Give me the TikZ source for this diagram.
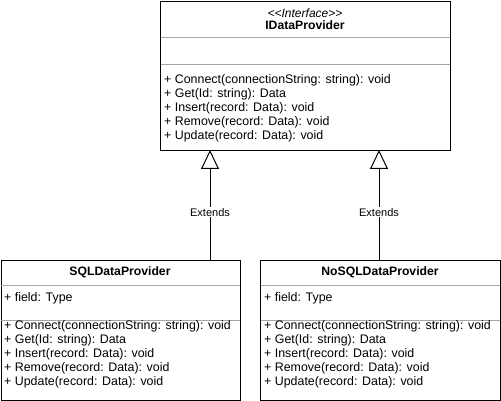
\documentclass[tikz,border=0pt]{standalone}
\usepackage{fontspec}
\setmainfont{Liberation Sans}
\usetikzlibrary{arrows.meta}
\begin{document}
\begin{tikzpicture}[x=1pt,y=-1pt,
  umlbox/.style={draw=black, line width=1pt, anchor=north west, inner sep=0pt},
  member/.style={anchor=west, inner sep=0pt, font=\fontsize{12.4}{14}\selectfont, text height=8.6pt, text depth=2.5pt},
  title/.style={anchor=center, inner sep=0pt, font=\fontsize{12.2}{14}\selectfont\bfseries, text height=8.6pt, text depth=2.5pt},
  stereo/.style={anchor=center, inner sep=0pt, font=\fontsize{12}{14}\selectfont\itshape, text height=8.6pt, text depth=2.5pt},
  divider/.style={draw=black!35, line width=1pt},
  extends/.style={draw=black, line width=1pt, -{Triangle[open, length=19pt, width=18pt]}},
  lbl/.style={fill=white, inner sep=1pt, font=\fontsize{11}{13}\selectfont}]
\useasboundingbox (0,0) rectangle (501,401);

% boxes
\node[umlbox, minimum width=290pt, minimum height=149pt] (iface) at (160,1) {};
\node[umlbox, minimum width=239.5pt, minimum height=140pt] (sql) at (0.5,260) {};
\node[umlbox, minimum width=240pt, minimum height=140pt] (nosql) at (260,260) {};

% dividers
\draw[divider] (160.5,38) -- (449.5,38);
\draw[divider] (160.5,65) -- (449.5,65);
\draw[divider] (1,285.5) -- (239.5,285.5);
\draw[divider] (1,320.5) -- (239.5,320.5);
\draw[divider] (260.5,285.5) -- (499.5,285.5);
\draw[divider] (260.5,320.5) -- (499.5,320.5);

% interface
\node[stereo] (ist) at (305,14) {<\kern0pt<Interface>\kern0pt>};
\node[title] (ititle) at (305,26.5) {IDataProvider};
\node[member] (i1) at (164,80) {+ Connect(connectionString: string): void};
\node[member] (i2) at (164,94) {+ Get(Id: string): Data};
\node[member] (i3) at (164,108) {+ Insert(record: Data): void};
\node[member] (i4) at (164,122) {+ Remove(record: Data): void};
\node[member] (i5) at (164,136) {+ Update(record: Data): void};

% SQL
\node[title] (stitle) at (120,272.5) {SQLDataProvider};
\node[member] (sf) at (4,298.5) {+ field: Type};
\node[member] (s1) at (4,326.5) {+ Connect(connectionString: string): void};
\node[member] (s2) at (4,340.5) {+ Get(Id: string): Data};
\node[member] (s3) at (4,354.5) {+ Insert(record: Data): void};
\node[member] (s4) at (4,368.5) {+ Remove(record: Data): void};
\node[member] (s5) at (4,382.5) {+ Update(record: Data): void};

% NoSQL
\node[title] (ntitle) at (380,272.5) {NoSQLDataProvider};
\node[member] (nf) at (264,298.5) {+ field: Type};
\node[member] (n1) at (264,326.5) {+ Connect(connectionString: string): void};
\node[member] (n2) at (264,340.5) {+ Get(Id: string): Data};
\node[member] (n3) at (264,354.5) {+ Insert(record: Data): void};
\node[member] (n4) at (264,368.5) {+ Remove(record: Data): void};
\node[member] (n5) at (264,382.5) {+ Update(record: Data): void};

% connectors
\coordinate (sa) at (210,260);
\coordinate (ia) at (210,150);
\coordinate (nb) at (379,260);
\coordinate (ib) at (379,150);
\draw[extends] (sa) -- node[lbl, pos=0.435] (e1) {Extends} (ia);
\draw[extends] (nb) -- node[lbl, pos=0.435] (e2) {Extends} (ib);
\end{tikzpicture}
\end{document}
